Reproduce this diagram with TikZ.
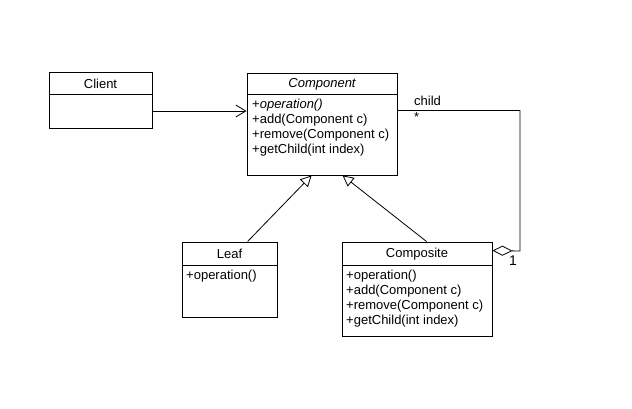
\documentclass[tikz,border=0pt]{standalone}
\usepackage{fontspec}
\setmainfont{Liberation Sans}
\usetikzlibrary{arrows.meta,calc}
\begin{document}
\begin{tikzpicture}[x=1pt,y=-1pt,
  box/.style={draw,line width=0.9pt,rectangle,inner sep=0pt,anchor=center},
  txt/.style={inner sep=0pt,anchor=west,font=\fontsize{13}{15}\selectfont},
  ttl/.style={inner sep=0pt,anchor=center,font=\fontsize{13}{15}\selectfont},
  conn/.style={line width=0.8pt},
  gen/.style={conn,-{Triangle[open,length=11pt,width=11pt,fill=white]}},
  assoc/.style={conn,-{Straight Barb[length=10pt,width=12pt]}},
  agg/.style={conn,-{Diamond[open,length=20pt,width=10pt,fill=white]}}
]
\useasboundingbox[fill=white] (0,0) rectangle (632,409);

% Client
\node[box,minimum width=103pt,minimum height=56pt] (client) at (100.5,100) {};
\draw[line width=0.9pt] (client.west |- 0,94) -- (client.east |- 0,94);
\node[ttl] (clientT) at (100.5,84) {Client};

% Component
\node[box,minimum width=150pt,minimum height=102pt] (comp) at (322,124) {};
\draw[line width=0.9pt] (comp.west |- 0,94) -- (comp.east |- 0,94);
\node[ttl] (compT) at (322,84) {\itshape Component};
\node[txt] (c1) at (252,105) {+\itshape operation()};
\node[txt] (c2) at (252,120) {+add(Component c)};
\node[txt] (c3) at (252,135) {+remove(Component c)};
\node[txt] (c4) at (252,150) {+getChild(int index)};

% Leaf
\node[box,minimum width=95pt,minimum height=75pt] (leaf) at (229.5,279.5) {};
\draw[line width=0.9pt] (leaf.west |- 0,265) -- (leaf.east |- 0,265);
\node[ttl] (leafT) at (229.5,254) {Leaf};
\node[txt] (l1) at (186,276) {+operation()};

% Composite
\node[box,minimum width=150pt,minimum height=94pt] (compo) at (417,289) {};
\draw[line width=0.9pt] (compo.west |- 0,265) -- (compo.east |- 0,265);
\node[ttl] (compoT) at (417,254) {Composite};
\node[txt] (p1) at (346,276) {+operation()};
\node[txt] (p2) at (346,291) {+add(Component c)};
\node[txt] (p3) at (346,306) {+remove(Component c)};
\node[txt] (p4) at (346,321) {+getChild(int index)};

% Connectors
\draw[assoc] ([yshift=-11pt]client.east) -- ([yshift=-11pt]client.east -| comp.west);
\draw[gen] ([xshift=66pt]leaf.north west) -- ([xshift=65pt]comp.south west);
\draw[gen] ([xshift=85pt]compo.north west) -- ([xshift=96pt]comp.south west);
\coordinate (bend) at (520,251);
\draw[agg] ([yshift=-38pt]comp.north east) -| (bend) -- ([yshift=-9pt]compo.north east);

% Labels
\node[txt] (child) at (414,101) {child};
\node[txt] (star) at (414,117) {*};
\node[txt,font=\fontsize{14}{15}\selectfont] (one) at (509,261) {1};
\end{tikzpicture}
\end{document}
